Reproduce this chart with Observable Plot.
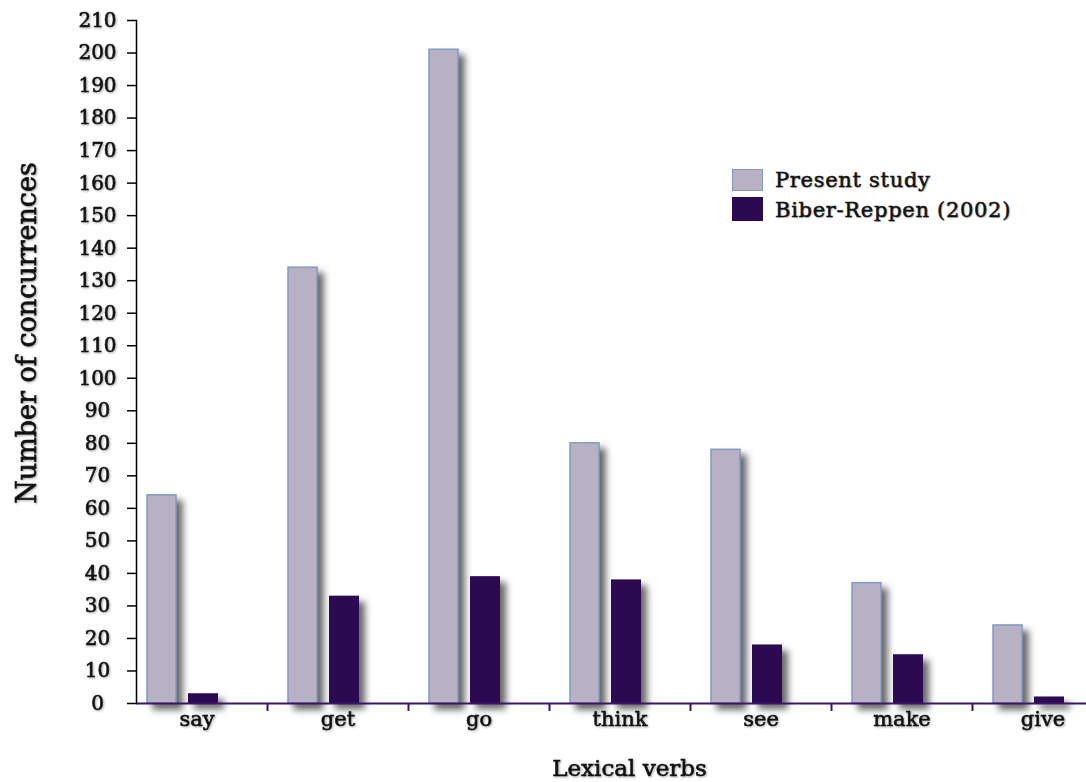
<!DOCTYPE html>
<html><head><meta charset="utf-8">
<script src="https://cdn.jsdelivr.net/npm/d3@7"></script>
<script src="https://cdn.jsdelivr.net/npm/@observablehq/plot@0.6"></script>
<style>
body{margin:0;background:#fff}
#wrap{position:relative;width:1086px;height:782px;font-family:"DejaVu Serif",serif;color:#111}
#wrap svg{display:block}
g[aria-label="bar"]{filter:drop-shadow(6px 6px 3.5px rgba(0,0,0,0.6))}
g[aria-label="y-axis tick label"],g[aria-label="x-axis tick label"],g[aria-label="text"]{filter:drop-shadow(1px 1px 1.2px rgba(0,0,0,0.35))}
g[aria-label="y-axis tick label"] text,g[aria-label="x-axis tick label"] text,g[aria-label="text"] text{stroke:#111;stroke-width:0.6px}
.sw{position:absolute;box-sizing:border-box;width:31px}
.lt{position:absolute;font-size:21px;line-height:20px;letter-spacing:0.7px;white-space:nowrap;-webkit-text-stroke:0.5px #111;text-shadow:1px 1px 1.2px rgba(0,0,0,0.3)}
</style></head><body><div id="wrap"></div>
<script>
const verbs = ["say", "get", "go", "think", "see", "make", "give"];
const presentStudy = [64, 134, 201, 80, 78, 37, 24];
const biberReppen = [3, 33, 39, 38, 18, 15, 2];
const seriesNames = ["Present study", "Biber-Reppen (2002)"];
const yTicks = [0, 10, 20, 30, 40, 50, 60, 70, 80, 90, 100, 110, 120, 130, 140, 150, 160, 170, 180, 190, 200, 210];
const xTitle = "Lexical verbs";
const yTitle = "Number of concurrences";

const presentFill = "#b8b1c4", presentStroke = "#7f9cc4", biberFill = "#2c0a52", axisPurple = "#3b1566";
const rows = verbs.map((v, i) => ({verb: v, present: presentStudy[i], biber: biberReppen[i]}));

const chart = Plot.plot({
  width: 1086,
  height: 782,
  marginLeft: 136,
  marginRight: 0,
  marginTop: 20,
  marginBottom: 79,
  style: {fontFamily: "DejaVu Serif", color: "#111", background: "#fff"},
  x: {domain: verbs, range: [126, 1113], padding: 0},
  y: {domain: [0, 210], range: [703, 20]},
  marks: [
    Plot.barY(rows, {x: "verb", y: "present", fill: presentFill, stroke: presentStroke, strokeWidth: 1.5, insetLeft: 21, insetRight: 91}),
    Plot.barY(rows, {x: "verb", y: "biber", fill: biberFill, insetLeft: 62, insetRight: 49}),
    Plot.ruleY([0], {stroke: axisPurple, strokeWidth: 2}),
    Plot.ruleX(verbs.slice(0, 6), {x: d => d, dx: 70.5, y1: 0, y2: 0, insetBottom: -8, stroke: axisPurple, strokeWidth: 2}),
    Plot.frame({anchor: "left", stroke: "#000", strokeWidth: 1.5}),
    Plot.axisY({ticks: yTicks, tickSize: 9, tickPadding: 30, textAnchor: "middle", fontSize: 20, label: null, stroke: "#000", strokeWidth: 1.5}),
    Plot.axisX({tickSize: 0, tickPadding: 8, fontSize: 21, label: null}),
    Plot.text([xTitle], {frameAnchor: "bottom", textAnchor: "middle", lineAnchor: "middle", dx: 18, dy: 65, fontSize: 23}),
    Plot.text([yTitle], {frameAnchor: "left", textAnchor: "middle", lineAnchor: "middle", rotate: -90, dx: -109, dy: -29, fontSize: 27})
  ]
});
const wrap = document.getElementById("wrap");
wrap.appendChild(chart);

// legend
const legendItems = [
  {name: seriesNames[0], fill: presentFill, stroke: presentStroke, top: 169, h: 22, textTop: 170},
  {name: seriesNames[1], fill: biberFill, stroke: biberFill, top: 197, h: 24, textTop: 200}
];
legendItems.forEach(it => {
  const sw = document.createElement("div");
  sw.className = "sw";
  sw.style.left = "732px"; sw.style.top = it.top + "px"; sw.style.height = it.h + "px";
  sw.style.background = it.fill; sw.style.border = "1.5px solid " + it.stroke;
  wrap.appendChild(sw);
  const t = document.createElement("div");
  t.className = "lt";
  t.style.left = "775px"; t.style.top = it.textTop + "px";
  t.textContent = it.name;
  wrap.appendChild(t);
});
</script></body></html>
